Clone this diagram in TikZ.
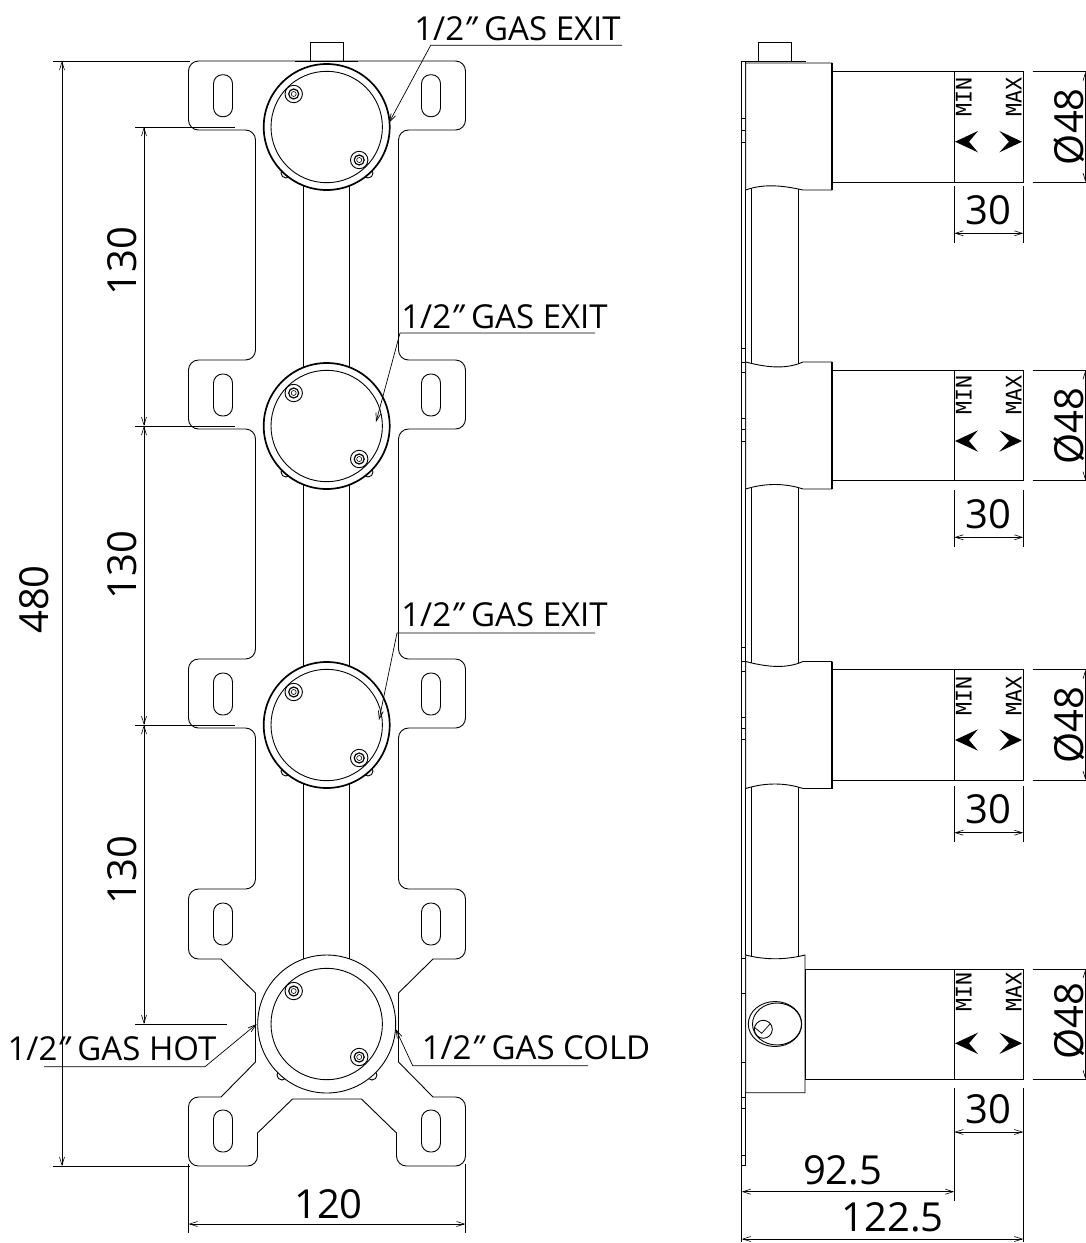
\documentclass[tikz,border=0pt]{standalone}
\usepackage{fontspec}
\setmainfont{Open Sans}
\newfontfamily\handlefont{DejaVu Sans Mono}
\usetikzlibrary{arrows.meta}
\newcommand{\dblprime}{{\itshape\symbol{"22}}}
\tikzset{
  part/.style={line width=0.9pt},
  heavy/.style={line width=1.7pt},
  dim/.style={line width=0.6pt, {Straight Barb[length=8pt,width=5pt]}-{Straight Barb[length=8pt,width=5pt]}},
  extline/.style={line width=0.8pt},
  leader/.style={line width=0.7pt, -{Straight Barb[length=8pt,width=5pt]}},
  size/.style={font=\fontsize{40}{44}\selectfont, inner sep=0pt, anchor=base},
  gas/.style={font=\fontsize{33}{36}\selectfont, inner sep=0pt, anchor=base},
  handletext/.style={font=\handlefont\fontsize{21.5}{24}\selectfont, inner sep=0pt, anchor=base, rotate=90},
}
\begin{document}
\begin{tikzpicture}[x=1pt, y=-1pt]
  \useasboundingbox (0,0) rectangle (1086,1243);
  % front view
  \draw[part] (310,61) -- (310,42) -- (343,42) -- (343,61);
  \foreach \flip in {1,-1} {
    \begin{scope}[xshift=327pt, xscale=\flip]
      \draw[part] (0,61) [rounded corners=10pt] -- (-138.5,61) -- (-138.5,130) -- (-71.5,130)
        -- (-71.5,360) -- (-138.5,360) -- (-138.5,429) -- (-71.5,429)
        -- (-71.5,659) -- (-138.5,659) -- (-138.5,728) -- (-71.5,728)
        -- (-71.5,889) -- (-138.5,889) -- (-138.5,959) [sharp corners] -- (-106,959)
        -- (-71.5,993) -- (-71.5,1062) -- (-106,1097) [rounded corners=10pt]
        -- (-138.5,1097) -- (-138.5,1166) -- (-69.5,1166) [sharp corners] -- (-69.5,1133)
        -- (-34.5,1099) -- (0,1099);
      \foreach \y in {74.7,374,673,903,1110}
        \draw[part, rounded corners=9pt] (-113.5,\y) rectangle (-94.5,\y+42);
      \foreach \y/\dx/\dy in {127/-41/46,426/-41/46,725/-41/46,1024/-45/51}
        \draw[part] (\dx,\y+\dy) circle (5);
    \end{scope}
  }
  \draw[heavy] (295,61.5) -- (358,61.5);
  \draw[part] (303.7,185) -- (303.7,965) (349.3,185) -- (349.3,965);
  \foreach \y in {127,426,725} {
    \draw[heavy, fill=white] (326.7,\y) circle (63);
    \draw[part] (326.7,\y) circle (55.7);
  }
  \draw[part, fill=white] (326.7,1024) circle (69);
  \draw[part] (326.7,1024) circle (55.7);
  \foreach \y in {127,426,725,1024} {
    \foreach \dx/\dy in {-33/-33,32.5/33} {
      \draw[part, fill=white] (326.7+\dx,\y+\dy) circle (8.7);
      \draw[line width=1.2pt] (326.7+\dx,\y+\dy) circle (5);
      \draw[line width=0.6pt] (326.7+\dx,\y+\dy) circle (2.5);
    }
  }
  % side view
  \draw[part, fill=white] (741.7,61) rectangle (745.7,1165);
  \foreach \y in {118,130,142,348,362,372,418,429,441,647,661,671,717,728,739,958,993,1062,1097,1108,1155}
    \draw[part] (741.7,\y) -- (745.7,\y);
  \draw[part] (758.3,61) -- (758.3,42) -- (791,42) -- (791,61);
  \draw[heavy] (745,61.5) -- (806,61.5);
  \draw[part] (751.7,185) -- (751.7,960) (798.3,185) -- (798.3,960);
  \draw[part, fill=white] (745.7,63) -- (832,63) -- (832,190) -- (803,190)
    .. controls (785,186) and (765,183) .. (745.7,190) -- cycle;
  \foreach \s in {0,299.5} {
    \draw[part, fill=white] (745.7,362+\s) .. controls (765,367+\s) and (785,370+\s) .. (803,362+\s)
      -- (832,362+\s) -- (832,489+\s) -- (803,489+\s)
      .. controls (785,483+\s) and (765,483+\s) .. (745.7,489+\s) -- cycle;
  }
  \draw[part, fill=white] (745.7,955) .. controls (765,960) and (785,960) .. (805,955)
    -- (805,1092.7) -- (745.7,1092.7) -- cycle;
  \draw[heavy] (832,63) -- (832,190) (832,362) -- (832,489) (832,661.5) -- (832,788.5);
  \draw[part] (775,1024) ellipse (26.7 and 22.5);
  \draw[part] (777,1024) ellipse (24.5 and 21);
  \draw[part] (763.3,1029.3) circle (9);
  \draw[line width=0.7pt] (754.3,1027.3) -- (761.7,1033.3) -- (770,1024);
  \foreach \t/\bx/\a/\m/\c [count=\i] in {71.7/832/141.7/97/126.7, 370.3/832/441/395/426, 669.7/832/740/696/725, 969/805/1043.3/991.7/1021} {
    \draw[part] (\bx,\t) rectangle (1023.3,\t+110.3);
    \draw[part] (954.3,\t) -- (954.3,\t+110.3);
    \node[handletext] (min\i) at (971.7,\m) {MIN};
    \node[handletext] (max\i) at (1021.7,\m) {MAX};
    \fill (955,\a) -- (978,\a-10.7) -- (969,\a) -- (978,\a+10.7) -- cycle;
    \fill (1022,\a) -- (999.3,\a-10.7) -- (1009,\a) -- (999.3,\a+10.7) -- cycle;
    \draw[extline] (1032.7,\t) -- (1086,\t) (1032.7,\t+110.3) -- (1086,\t+110.3);
    \coordinate (diaa\i) at (1085.5,\t);
    \coordinate (diab\i) at (1085.5,\t+110.3);
    \draw[dim] (diaa\i) -- (diab\i);
    \node[size, rotate=90] (dia\i) at (1083.3,\c) {Ø48};
  }
  \foreach \e/\a/\b [count=\i] in {186/233.3/224, 490/537.3/528.3, 786/832.7/823.3, 1088/1132/1123.3} {
    \coordinate (left\i) at (954.3,\a);
    \coordinate (right\i) at (1023.3,\a);
    \draw[extline] (954.3,\e) -- (954.3,\a+9.4) (1023.3,\e) -- (1023.3,\a+9.4);
    \draw[dim] (left\i) -- (right\i);
    \node[size] (travel\i) at (988,\b) {30};
  }
  % overall sizes, side view
  \draw[extline] (954.3,1132) -- (954.3,1200.7) (1023.3,1132) -- (1023.3,1241.7) (741.7,1166) -- (741.7,1241.7);
  \coordinate (sidea) at (741.7,1191.7);
  \coordinate (sideb) at (954.3,1191.7);
  \coordinate (sidec) at (741.7,1239);
  \coordinate (sided) at (1023.3,1239);
  \draw[dim] (sidea) -- (sideb);
  \draw[dim] (sidec) -- (sided);
  \node[size] (depthA) at (842.7,1184.3) {92.5};
  \node[size] (depthB) at (892.7,1231.7) {122.5};
  % sizes, front view
  \draw[extline] (53,61) -- (190,61) (53,1166) -- (190,1166);
  \foreach \y in {127,426,725} \draw[extline] (135,\y) -- (235,\y);
  \draw[extline] (135,1024) -- (227,1024);
  \coordinate (totala) at (62,61);
  \coordinate (totalb) at (62,1166);
  \draw[dim] (totala) -- (totalb);
  \node[size, rotate=90] (total) at (48.5,599.5) {480};
  \foreach \y/\z/\c in {127/426/261, 426/725/565, 725/1024/870} {
    \coordinate (pitcha\y) at (144,\y);
    \coordinate (pitchb\y) at (144,\z);
    \draw[dim] (pitcha\y) -- (pitchb\y);
    \node[size, rotate=90] (pitch\y) at (136,\c) {130};
  }
  \draw[extline] (188.5,1164) -- (188.5,1233) (465.5,1164) -- (465.5,1233);
  \coordinate (widtha) at (188.5,1224);
  \coordinate (widthb) at (465.5,1224);
  \draw[dim] (widtha) -- (widthb);
  \node[size] (width) at (328.5,1218) {120};
  % outlets
  \node[gas] (exitA) at (517.5,40) {1/2\dblprime\ GAS EXIT};
  \node[gas] (exitB) at (504.5,328) {1/2\dblprime\ GAS EXIT};
  \node[gas] (exitC) at (504.5,626.7) {1/2\dblprime\ GAS EXIT};
  \node[gas] (hot) at (112,1060.7) {1/2\dblprime\ GAS HOT};
  \node[gas] (cold) at (536,1059) {1/2\dblprime\ GAS COLD};
  \coordinate (exitAend) at (622,45.3);
  \coordinate (exitAbend) at (430.7,45.3);
  \coordinate (exitAtip) at (389,122.7);
  \draw[leader] (exitAend) -- (exitAbend) -- (exitAtip);
  \coordinate (exitBend) at (595,333);
  \coordinate (exitBbend) at (400,333);
  \coordinate (exitBtip) at (376,422);
  \draw[leader] (exitBend) -- (exitBbend) -- (exitBtip);
  \coordinate (exitCend) at (595,633);
  \coordinate (exitCbend) at (397,633);
  \coordinate (exitCtip) at (379,720);
  \draw[leader] (exitCend) -- (exitCbend) -- (exitCtip);
  \coordinate (hotend) at (44,1066.7);
  \coordinate (hotbend) at (205,1066.7);
  \coordinate (hottip) at (256.7,1024);
  \draw[leader] (hotend) -- (hotbend) -- (hottip);
  \coordinate (coldend) at (588,1065.7);
  \coordinate (coldbend) at (412.7,1065.7);
  \coordinate (coldtip) at (395.7,1029);
  \draw[leader] (coldend) -- (coldbend) -- (coldtip);
\end{tikzpicture}
\end{document}
